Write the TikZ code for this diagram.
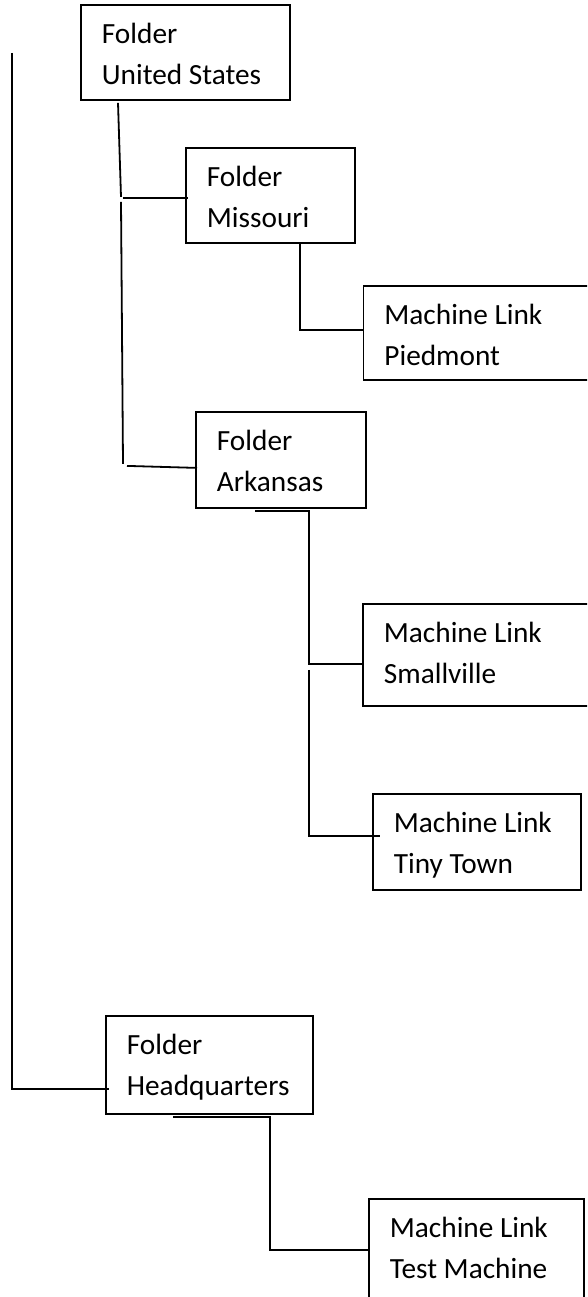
\documentclass[tikz,border=0pt]{standalone}
\usepackage{fontspec}
\setmainfont{Carlito}
\usetikzlibrary{calc}
\begin{document}
\begin{tikzpicture}[x=1pt,y=-1pt,
  link/.style={line width=1.8pt},
  item/.style={draw, line width=1.8pt, anchor=north west, inner xsep=21pt,
    inner ysep=0pt, align=flush left, text height=39pt,
    font=\fontsize{29.3}{41}\selectfont}]
\useasboundingbox (0,0) rectangle (587,1297);
\clip (0,0) rectangle (587,1297);
\fill[white] (0,0) rectangle (587,1297);

% folders and machine links
\node[item, text width=167pt, text depth=56pt] (us) at (80,4)   {Folder\\United States};
\node[item, text width=127pt, text depth=56pt] (mo) at (185,147) {Folder\\Missouri};
\node[item, text width=198pt, text depth=55pt] (pd) at (362.5,285) {Machine Link\\Piedmont};
\node[item, text width=128pt, text depth=57pt] (ar) at (195,411) {Folder\\Arkansas};
\node[item, text width=198pt, text depth=63pt] (sv) at (362,603) {Machine Link\\Smallville};
\node[item, text width=166pt, text depth=57pt] (tt) at (372,793) {Machine Link\\Tiny Town};
\node[item, text width=165pt, text depth=59pt] (hq) at (105,1015) {Folder\\Headquarters};
\node[item, text width=173pt, text depth=81pt] (tm) at (368,1198) {Machine Link\\Test Machine};

% root trunk down to Headquarters
\coordinate (root) at (12,53);
\draw[link] (root) |- ($(hq.south west)+(4,-26)$);

% United States -> Missouri, Arkansas
\draw[link] ($(us.south west)+(38,2)$) -- ++(3,94);
\draw[link] ($(mo.west)+(-62,2.5)$) -- ($(mo.west)+(3,2.5)$);
\draw[link] ($(us.south west)+(41,101)$) -- ++(2,262);
\draw[link] ($(ar.west)+(-68,6)$) -- ($(ar.west)+(2,8)$);

% Missouri -> Piedmont
\draw[link] ([xshift=115pt]mo.south west) |- ([yshift=3pt]pd.west);

% Arkansas -> Smallville, Tiny Town
\draw[link] ($(ar.south west)+(60,2)$) -- ++(54,0) |- ([yshift=-8.7pt]sv.west);
\draw[link] ($(ar.south west)+(114,161)$) |- ($(tt.west)+(8,-6)$);

% Headquarters -> Test Machine
\draw[link] ($(hq.south west)+(68,2)$) -- ++(97,0) |- ([yshift=9pt]tm.west);
\end{tikzpicture}
\end{document}
